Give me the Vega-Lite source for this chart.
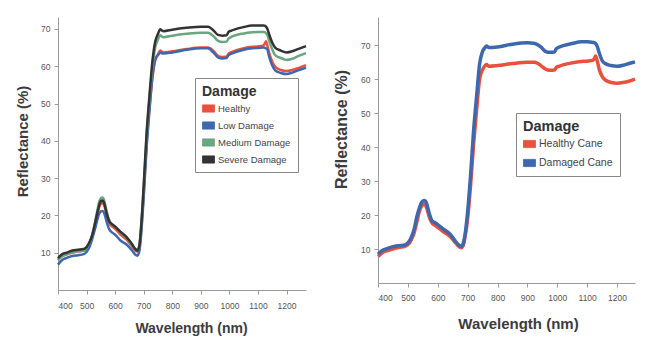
{
 "$schema": "https://vega.github.io/schema/vega-lite/v6.json",
 "background": "white",
 "padding": {"left": 15, "top": 17, "right": 5, "bottom": 5},
 "config": {
  "view": {"stroke": null},
  "font": "Liberation Sans",
  "concat": {"spacing": 22},
  "axis": {"domainColor": "#9a9a9a", "tickColor": "#9a9a9a", "tickSize": 4, "grid": false, "labelColor": "#555555", "labelFontSize": 8.5, "titleColor": "#3c3c3c", "titleFontWeight": "bold"},
  "legend": {"titleFontSize": 14, "titleColor": "#333333", "titleFontWeight": "bold", "labelFontSize": 10, "labelColor": "#444444", "symbolType": "M-1,-0.6H1V0.6H-1Z", "symbolSize": 144, "symbolStrokeWidth": 0.8, "strokeColor": "#888888", "fillColor": "white", "padding": 7, "rowPadding": 6, "titlePadding": 3, "labelOffset": 3}
 },
 "datasets": {
  "left": [
   {"wl":400,"r":8.0,"s":"Healthy"},{"wl":410,"r":8.8,"s":"Healthy"},{"wl":420,"r":9.3,"s":"Healthy"},{"wl":430,"r":9.5,"s":"Healthy"},{"wl":450,"r":10.0,"s":"Healthy"},{"wl":470,"r":10.3,"s":"Healthy"},{"wl":490,"r":10.5,"s":"Healthy"},{"wl":500,"r":11.0,"s":"Healthy"},{"wl":510,"r":12.2,"s":"Healthy"},{"wl":520,"r":14.3,"s":"Healthy"},{"wl":530,"r":17.5,"s":"Healthy"},{"wl":540,"r":21.0,"s":"Healthy"},{"wl":545,"r":22.4,"s":"Healthy"},{"wl":550,"r":23.1,"s":"Healthy"},{"wl":555,"r":23.3,"s":"Healthy"},{"wl":560,"r":23.0,"s":"Healthy"},{"wl":565,"r":21.8,"s":"Healthy"},{"wl":570,"r":20.0,"s":"Healthy"},{"wl":580,"r":17.8,"s":"Healthy"},{"wl":590,"r":17.0,"s":"Healthy"},{"wl":600,"r":16.4,"s":"Healthy"},{"wl":620,"r":14.8,"s":"Healthy"},{"wl":640,"r":13.5,"s":"Healthy"},{"wl":660,"r":11.6,"s":"Healthy"},{"wl":670,"r":10.6,"s":"Healthy"},{"wl":678,"r":10.3,"s":"Healthy"},{"wl":685,"r":11.5,"s":"Healthy"},{"wl":690,"r":15.0,"s":"Healthy"},{"wl":700,"r":26.0,"s":"Healthy"},{"wl":710,"r":39.0,"s":"Healthy"},{"wl":720,"r":48.5,"s":"Healthy"},{"wl":730,"r":56.5,"s":"Healthy"},{"wl":740,"r":61.5,"s":"Healthy"},{"wl":750,"r":63.2,"s":"Healthy"},{"wl":758,"r":64.2,"s":"Healthy"},{"wl":763,"r":63.9,"s":"Healthy"},{"wl":770,"r":63.7,"s":"Healthy"},{"wl":800,"r":64.0,"s":"Healthy"},{"wl":850,"r":64.6,"s":"Healthy"},{"wl":900,"r":65.0,"s":"Healthy"},{"wl":925,"r":65.0,"s":"Healthy"},{"wl":945,"r":64.0,"s":"Healthy"},{"wl":960,"r":62.8,"s":"Healthy"},{"wl":975,"r":62.5,"s":"Healthy"},{"wl":990,"r":62.6,"s":"Healthy"},{"wl":997,"r":63.4,"s":"Healthy"},{"wl":1005,"r":63.7,"s":"Healthy"},{"wl":1050,"r":64.8,"s":"Healthy"},{"wl":1080,"r":65.2,"s":"Healthy"},{"wl":1100,"r":65.3,"s":"Healthy"},{"wl":1120,"r":65.6,"s":"Healthy"},{"wl":1125,"r":66.3,"s":"Healthy"},{"wl":1128,"r":66.7,"s":"Healthy"},{"wl":1133,"r":65.5,"s":"Healthy"},{"wl":1140,"r":63.3,"s":"Healthy"},{"wl":1150,"r":61.2,"s":"Healthy"},{"wl":1160,"r":59.8,"s":"Healthy"},{"wl":1180,"r":59.0,"s":"Healthy"},{"wl":1200,"r":58.7,"s":"Healthy"},{"wl":1220,"r":59.0,"s":"Healthy"},{"wl":1240,"r":59.5,"s":"Healthy"},{"wl":1268,"r":60.3,"s":"Healthy"},
   {"wl":400,"r":6.8,"s":"Low Damage"},{"wl":410,"r":7.7,"s":"Low Damage"},{"wl":420,"r":8.3,"s":"Low Damage"},{"wl":430,"r":8.6,"s":"Low Damage"},{"wl":450,"r":9.1,"s":"Low Damage"},{"wl":470,"r":9.3,"s":"Low Damage"},{"wl":490,"r":9.6,"s":"Low Damage"},{"wl":500,"r":10.2,"s":"Low Damage"},{"wl":510,"r":11.5,"s":"Low Damage"},{"wl":520,"r":13.8,"s":"Low Damage"},{"wl":530,"r":16.5,"s":"Low Damage"},{"wl":540,"r":19.5,"s":"Low Damage"},{"wl":545,"r":20.6,"s":"Low Damage"},{"wl":550,"r":21.1,"s":"Low Damage"},{"wl":555,"r":21.2,"s":"Low Damage"},{"wl":560,"r":20.9,"s":"Low Damage"},{"wl":565,"r":19.8,"s":"Low Damage"},{"wl":570,"r":18.3,"s":"Low Damage"},{"wl":580,"r":16.2,"s":"Low Damage"},{"wl":590,"r":15.4,"s":"Low Damage"},{"wl":600,"r":14.8,"s":"Low Damage"},{"wl":620,"r":13.2,"s":"Low Damage"},{"wl":640,"r":12.2,"s":"Low Damage"},{"wl":660,"r":10.5,"s":"Low Damage"},{"wl":670,"r":9.5,"s":"Low Damage"},{"wl":678,"r":9.2,"s":"Low Damage"},{"wl":685,"r":10.5,"s":"Low Damage"},{"wl":690,"r":14.0,"s":"Low Damage"},{"wl":700,"r":25.0,"s":"Low Damage"},{"wl":710,"r":38.0,"s":"Low Damage"},{"wl":720,"r":48.0,"s":"Low Damage"},{"wl":730,"r":57.0,"s":"Low Damage"},{"wl":740,"r":61.8,"s":"Low Damage"},{"wl":750,"r":63.0,"s":"Low Damage"},{"wl":758,"r":63.6,"s":"Low Damage"},{"wl":763,"r":63.5,"s":"Low Damage"},{"wl":770,"r":63.4,"s":"Low Damage"},{"wl":800,"r":63.7,"s":"Low Damage"},{"wl":850,"r":64.4,"s":"Low Damage"},{"wl":900,"r":64.8,"s":"Low Damage"},{"wl":925,"r":64.8,"s":"Low Damage"},{"wl":945,"r":63.6,"s":"Low Damage"},{"wl":960,"r":62.4,"s":"Low Damage"},{"wl":975,"r":62.1,"s":"Low Damage"},{"wl":990,"r":62.2,"s":"Low Damage"},{"wl":997,"r":63.0,"s":"Low Damage"},{"wl":1005,"r":63.3,"s":"Low Damage"},{"wl":1050,"r":64.4,"s":"Low Damage"},{"wl":1080,"r":64.8,"s":"Low Damage"},{"wl":1100,"r":64.9,"s":"Low Damage"},{"wl":1120,"r":65.0,"s":"Low Damage"},{"wl":1125,"r":64.9,"s":"Low Damage"},{"wl":1128,"r":64.8,"s":"Low Damage"},{"wl":1133,"r":64.4,"s":"Low Damage"},{"wl":1140,"r":62.3,"s":"Low Damage"},{"wl":1150,"r":60.2,"s":"Low Damage"},{"wl":1160,"r":58.9,"s":"Low Damage"},{"wl":1180,"r":58.2,"s":"Low Damage"},{"wl":1200,"r":57.9,"s":"Low Damage"},{"wl":1220,"r":58.3,"s":"Low Damage"},{"wl":1240,"r":58.9,"s":"Low Damage"},{"wl":1268,"r":59.6,"s":"Low Damage"},
   {"wl":400,"r":8.0,"s":"Medium Damage"},{"wl":410,"r":8.8,"s":"Medium Damage"},{"wl":420,"r":9.3,"s":"Medium Damage"},{"wl":430,"r":9.6,"s":"Medium Damage"},{"wl":450,"r":10.2,"s":"Medium Damage"},{"wl":470,"r":10.4,"s":"Medium Damage"},{"wl":490,"r":10.6,"s":"Medium Damage"},{"wl":500,"r":11.2,"s":"Medium Damage"},{"wl":510,"r":12.6,"s":"Medium Damage"},{"wl":520,"r":14.8,"s":"Medium Damage"},{"wl":530,"r":18.3,"s":"Medium Damage"},{"wl":540,"r":22.2,"s":"Medium Damage"},{"wl":545,"r":23.8,"s":"Medium Damage"},{"wl":550,"r":24.6,"s":"Medium Damage"},{"wl":555,"r":24.8,"s":"Medium Damage"},{"wl":560,"r":24.4,"s":"Medium Damage"},{"wl":565,"r":23.0,"s":"Medium Damage"},{"wl":570,"r":21.2,"s":"Medium Damage"},{"wl":580,"r":18.6,"s":"Medium Damage"},{"wl":590,"r":17.6,"s":"Medium Damage"},{"wl":600,"r":17.0,"s":"Medium Damage"},{"wl":620,"r":15.4,"s":"Medium Damage"},{"wl":640,"r":14.0,"s":"Medium Damage"},{"wl":660,"r":12.0,"s":"Medium Damage"},{"wl":670,"r":11.0,"s":"Medium Damage"},{"wl":678,"r":10.7,"s":"Medium Damage"},{"wl":685,"r":12.0,"s":"Medium Damage"},{"wl":690,"r":16.0,"s":"Medium Damage"},{"wl":700,"r":27.5,"s":"Medium Damage"},{"wl":710,"r":41.0,"s":"Medium Damage"},{"wl":720,"r":51.0,"s":"Medium Damage"},{"wl":730,"r":59.5,"s":"Medium Damage"},{"wl":740,"r":65.0,"s":"Medium Damage"},{"wl":750,"r":67.2,"s":"Medium Damage"},{"wl":758,"r":68.3,"s":"Medium Damage"},{"wl":763,"r":68.0,"s":"Medium Damage"},{"wl":770,"r":67.8,"s":"Medium Damage"},{"wl":800,"r":68.2,"s":"Medium Damage"},{"wl":850,"r":68.7,"s":"Medium Damage"},{"wl":900,"r":69.0,"s":"Medium Damage"},{"wl":925,"r":69.0,"s":"Medium Damage"},{"wl":945,"r":68.0,"s":"Medium Damage"},{"wl":960,"r":66.8,"s":"Medium Damage"},{"wl":975,"r":66.5,"s":"Medium Damage"},{"wl":990,"r":66.6,"s":"Medium Damage"},{"wl":997,"r":67.4,"s":"Medium Damage"},{"wl":1005,"r":67.8,"s":"Medium Damage"},{"wl":1050,"r":68.8,"s":"Medium Damage"},{"wl":1080,"r":69.1,"s":"Medium Damage"},{"wl":1100,"r":69.2,"s":"Medium Damage"},{"wl":1120,"r":69.2,"s":"Medium Damage"},{"wl":1125,"r":69.1,"s":"Medium Damage"},{"wl":1128,"r":68.9,"s":"Medium Damage"},{"wl":1133,"r":68.3,"s":"Medium Damage"},{"wl":1140,"r":66.6,"s":"Medium Damage"},{"wl":1150,"r":64.5,"s":"Medium Damage"},{"wl":1160,"r":63.0,"s":"Medium Damage"},{"wl":1180,"r":62.2,"s":"Medium Damage"},{"wl":1200,"r":61.7,"s":"Medium Damage"},{"wl":1220,"r":62.0,"s":"Medium Damage"},{"wl":1240,"r":62.7,"s":"Medium Damage"},{"wl":1268,"r":63.5,"s":"Medium Damage"},
   {"wl":400,"r":8.5,"s":"Severe Damage"},{"wl":410,"r":9.3,"s":"Severe Damage"},{"wl":420,"r":9.8,"s":"Severe Damage"},{"wl":430,"r":10.0,"s":"Severe Damage"},{"wl":450,"r":10.6,"s":"Severe Damage"},{"wl":470,"r":10.8,"s":"Severe Damage"},{"wl":490,"r":11.0,"s":"Severe Damage"},{"wl":500,"r":11.5,"s":"Severe Damage"},{"wl":510,"r":12.8,"s":"Severe Damage"},{"wl":520,"r":14.8,"s":"Severe Damage"},{"wl":530,"r":18.0,"s":"Severe Damage"},{"wl":540,"r":21.5,"s":"Severe Damage"},{"wl":545,"r":23.0,"s":"Severe Damage"},{"wl":550,"r":23.8,"s":"Severe Damage"},{"wl":555,"r":24.0,"s":"Severe Damage"},{"wl":560,"r":23.6,"s":"Severe Damage"},{"wl":565,"r":22.3,"s":"Severe Damage"},{"wl":570,"r":20.6,"s":"Severe Damage"},{"wl":580,"r":18.3,"s":"Severe Damage"},{"wl":590,"r":17.6,"s":"Severe Damage"},{"wl":600,"r":17.0,"s":"Severe Damage"},{"wl":620,"r":15.5,"s":"Severe Damage"},{"wl":640,"r":14.2,"s":"Severe Damage"},{"wl":660,"r":12.2,"s":"Severe Damage"},{"wl":670,"r":11.0,"s":"Severe Damage"},{"wl":678,"r":10.6,"s":"Severe Damage"},{"wl":685,"r":12.0,"s":"Severe Damage"},{"wl":690,"r":16.0,"s":"Severe Damage"},{"wl":700,"r":28.0,"s":"Severe Damage"},{"wl":710,"r":42.0,"s":"Severe Damage"},{"wl":720,"r":52.0,"s":"Severe Damage"},{"wl":730,"r":61.0,"s":"Severe Damage"},{"wl":740,"r":66.5,"s":"Severe Damage"},{"wl":750,"r":68.7,"s":"Severe Damage"},{"wl":758,"r":69.9,"s":"Severe Damage"},{"wl":763,"r":69.6,"s":"Severe Damage"},{"wl":770,"r":69.4,"s":"Severe Damage"},{"wl":800,"r":69.8,"s":"Severe Damage"},{"wl":850,"r":70.3,"s":"Severe Damage"},{"wl":900,"r":70.6,"s":"Severe Damage"},{"wl":925,"r":70.6,"s":"Severe Damage"},{"wl":945,"r":69.5,"s":"Severe Damage"},{"wl":960,"r":68.4,"s":"Severe Damage"},{"wl":975,"r":68.2,"s":"Severe Damage"},{"wl":990,"r":68.3,"s":"Severe Damage"},{"wl":997,"r":69.2,"s":"Severe Damage"},{"wl":1005,"r":69.5,"s":"Severe Damage"},{"wl":1050,"r":70.5,"s":"Severe Damage"},{"wl":1080,"r":70.9,"s":"Severe Damage"},{"wl":1100,"r":70.9,"s":"Severe Damage"},{"wl":1120,"r":70.9,"s":"Severe Damage"},{"wl":1125,"r":70.8,"s":"Severe Damage"},{"wl":1128,"r":70.6,"s":"Severe Damage"},{"wl":1133,"r":70.0,"s":"Severe Damage"},{"wl":1140,"r":68.3,"s":"Severe Damage"},{"wl":1150,"r":66.3,"s":"Severe Damage"},{"wl":1160,"r":65.0,"s":"Severe Damage"},{"wl":1180,"r":64.2,"s":"Severe Damage"},{"wl":1200,"r":63.7,"s":"Severe Damage"},{"wl":1220,"r":64.0,"s":"Severe Damage"},{"wl":1240,"r":64.6,"s":"Severe Damage"},{"wl":1268,"r":65.4,"s":"Severe Damage"}
  ],
  "right": [
   {"wl":400,"r":7.8,"s":"Healthy Cane"},{"wl":410,"r":8.6,"s":"Healthy Cane"},{"wl":420,"r":9.2,"s":"Healthy Cane"},{"wl":430,"r":9.5,"s":"Healthy Cane"},{"wl":450,"r":10.0,"s":"Healthy Cane"},{"wl":470,"r":10.5,"s":"Healthy Cane"},{"wl":490,"r":10.8,"s":"Healthy Cane"},{"wl":500,"r":11.3,"s":"Healthy Cane"},{"wl":510,"r":12.5,"s":"Healthy Cane"},{"wl":520,"r":14.5,"s":"Healthy Cane"},{"wl":530,"r":18.0,"s":"Healthy Cane"},{"wl":540,"r":21.5,"s":"Healthy Cane"},{"wl":545,"r":22.5,"s":"Healthy Cane"},{"wl":550,"r":23.0,"s":"Healthy Cane"},{"wl":555,"r":23.2,"s":"Healthy Cane"},{"wl":560,"r":22.8,"s":"Healthy Cane"},{"wl":565,"r":21.5,"s":"Healthy Cane"},{"wl":570,"r":19.9,"s":"Healthy Cane"},{"wl":580,"r":17.8,"s":"Healthy Cane"},{"wl":590,"r":17.0,"s":"Healthy Cane"},{"wl":600,"r":16.4,"s":"Healthy Cane"},{"wl":620,"r":15.0,"s":"Healthy Cane"},{"wl":640,"r":13.8,"s":"Healthy Cane"},{"wl":660,"r":11.8,"s":"Healthy Cane"},{"wl":670,"r":10.8,"s":"Healthy Cane"},{"wl":678,"r":10.4,"s":"Healthy Cane"},{"wl":685,"r":11.0,"s":"Healthy Cane"},{"wl":690,"r":13.0,"s":"Healthy Cane"},{"wl":700,"r":19.0,"s":"Healthy Cane"},{"wl":710,"r":29.0,"s":"Healthy Cane"},{"wl":720,"r":41.0,"s":"Healthy Cane"},{"wl":730,"r":51.0,"s":"Healthy Cane"},{"wl":740,"r":60.0,"s":"Healthy Cane"},{"wl":750,"r":62.8,"s":"Healthy Cane"},{"wl":758,"r":64.0,"s":"Healthy Cane"},{"wl":763,"r":64.3,"s":"Healthy Cane"},{"wl":770,"r":63.8,"s":"Healthy Cane"},{"wl":800,"r":64.0,"s":"Healthy Cane"},{"wl":850,"r":64.6,"s":"Healthy Cane"},{"wl":900,"r":65.0,"s":"Healthy Cane"},{"wl":925,"r":65.0,"s":"Healthy Cane"},{"wl":945,"r":64.0,"s":"Healthy Cane"},{"wl":960,"r":63.0,"s":"Healthy Cane"},{"wl":975,"r":62.6,"s":"Healthy Cane"},{"wl":990,"r":62.7,"s":"Healthy Cane"},{"wl":997,"r":63.5,"s":"Healthy Cane"},{"wl":1005,"r":63.8,"s":"Healthy Cane"},{"wl":1050,"r":64.8,"s":"Healthy Cane"},{"wl":1080,"r":65.2,"s":"Healthy Cane"},{"wl":1100,"r":65.3,"s":"Healthy Cane"},{"wl":1120,"r":65.6,"s":"Healthy Cane"},{"wl":1125,"r":66.3,"s":"Healthy Cane"},{"wl":1128,"r":66.8,"s":"Healthy Cane"},{"wl":1133,"r":65.6,"s":"Healthy Cane"},{"wl":1140,"r":63.0,"s":"Healthy Cane"},{"wl":1150,"r":60.8,"s":"Healthy Cane"},{"wl":1160,"r":59.8,"s":"Healthy Cane"},{"wl":1180,"r":59.0,"s":"Healthy Cane"},{"wl":1200,"r":58.8,"s":"Healthy Cane"},{"wl":1220,"r":59.0,"s":"Healthy Cane"},{"wl":1240,"r":59.4,"s":"Healthy Cane"},{"wl":1260,"r":60.0,"s":"Healthy Cane"},
   {"wl":400,"r":8.5,"s":"Damaged Cane"},{"wl":410,"r":9.3,"s":"Damaged Cane"},{"wl":420,"r":9.8,"s":"Damaged Cane"},{"wl":430,"r":10.1,"s":"Damaged Cane"},{"wl":450,"r":10.7,"s":"Damaged Cane"},{"wl":470,"r":11.0,"s":"Damaged Cane"},{"wl":490,"r":11.2,"s":"Damaged Cane"},{"wl":500,"r":11.8,"s":"Damaged Cane"},{"wl":510,"r":13.2,"s":"Damaged Cane"},{"wl":520,"r":15.5,"s":"Damaged Cane"},{"wl":530,"r":19.5,"s":"Damaged Cane"},{"wl":540,"r":22.5,"s":"Damaged Cane"},{"wl":545,"r":23.6,"s":"Damaged Cane"},{"wl":550,"r":24.1,"s":"Damaged Cane"},{"wl":555,"r":24.3,"s":"Damaged Cane"},{"wl":560,"r":24.0,"s":"Damaged Cane"},{"wl":565,"r":22.7,"s":"Damaged Cane"},{"wl":570,"r":21.0,"s":"Damaged Cane"},{"wl":580,"r":18.4,"s":"Damaged Cane"},{"wl":590,"r":17.8,"s":"Damaged Cane"},{"wl":600,"r":17.2,"s":"Damaged Cane"},{"wl":620,"r":15.8,"s":"Damaged Cane"},{"wl":640,"r":14.5,"s":"Damaged Cane"},{"wl":660,"r":12.2,"s":"Damaged Cane"},{"wl":670,"r":11.2,"s":"Damaged Cane"},{"wl":678,"r":10.8,"s":"Damaged Cane"},{"wl":685,"r":11.6,"s":"Damaged Cane"},{"wl":690,"r":13.5,"s":"Damaged Cane"},{"wl":700,"r":21.0,"s":"Damaged Cane"},{"wl":710,"r":32.0,"s":"Damaged Cane"},{"wl":720,"r":45.0,"s":"Damaged Cane"},{"wl":730,"r":55.0,"s":"Damaged Cane"},{"wl":740,"r":64.5,"s":"Damaged Cane"},{"wl":750,"r":68.2,"s":"Damaged Cane"},{"wl":758,"r":69.3,"s":"Damaged Cane"},{"wl":763,"r":69.8,"s":"Damaged Cane"},{"wl":770,"r":69.3,"s":"Damaged Cane"},{"wl":800,"r":69.5,"s":"Damaged Cane"},{"wl":850,"r":70.3,"s":"Damaged Cane"},{"wl":900,"r":70.7,"s":"Damaged Cane"},{"wl":925,"r":70.5,"s":"Damaged Cane"},{"wl":945,"r":69.5,"s":"Damaged Cane"},{"wl":960,"r":68.2,"s":"Damaged Cane"},{"wl":975,"r":67.9,"s":"Damaged Cane"},{"wl":990,"r":68.0,"s":"Damaged Cane"},{"wl":997,"r":69.0,"s":"Damaged Cane"},{"wl":1005,"r":69.4,"s":"Damaged Cane"},{"wl":1050,"r":70.5,"s":"Damaged Cane"},{"wl":1080,"r":71.0,"s":"Damaged Cane"},{"wl":1100,"r":71.0,"s":"Damaged Cane"},{"wl":1120,"r":70.8,"s":"Damaged Cane"},{"wl":1125,"r":70.7,"s":"Damaged Cane"},{"wl":1128,"r":70.5,"s":"Damaged Cane"},{"wl":1133,"r":69.8,"s":"Damaged Cane"},{"wl":1140,"r":67.8,"s":"Damaged Cane"},{"wl":1150,"r":65.5,"s":"Damaged Cane"},{"wl":1160,"r":64.6,"s":"Damaged Cane"},{"wl":1180,"r":64.0,"s":"Damaged Cane"},{"wl":1200,"r":63.8,"s":"Damaged Cane"},{"wl":1220,"r":64.1,"s":"Damaged Cane"},{"wl":1240,"r":64.6,"s":"Damaged Cane"},{"wl":1260,"r":65.1,"s":"Damaged Cane"}
  ]
 },
 "hconcat": [
  {
   "width": 248, "height": 273,
   "data": {"name": "left"},
   "mark": {"type": "line", "strokeWidth": 2.5, "interpolate": "monotone"},
   "encoding": {
    "x": {"field": "wl", "type": "quantitative", "scale": {"domain": [400, 1268], "nice": false, "zero": false},
     "axis": {"values": [400,500,600,700,800,900,1000,1100,1200], "format": "d", "title": "Wavelength (nm)", "titleFontSize": 14, "titleX": 133, "titleY": 38, "titleBaseline": "middle", "labelPadding": 7}},
    "y": {"field": "r", "type": "quantitative", "scale": {"domain": [0, 73.2], "nice": false},
     "axis": {"values": [10,20,30,40,50,60,70], "title": "Reflectance (%)", "titleFontSize": 15, "titleX": -36, "titleY": 124, "titleBaseline": "middle", "labelPadding": 4}},
    "color": {"field": "s", "type": "nominal",
     "scale": {"domain": ["Healthy", "Low Damage", "Medium Damage", "Severe Damage"], "range": ["#e9503d", "#3d68ad", "#6aa67f", "#333333"]},
     "legend": {"title": "Damage", "orient": "none", "legendX": 137, "legendY": 61, "labelFontSize": 9.5, "rowPadding": 5,
      "encode": {"symbols": {"update": {"fill": {"scale": "concat_0_color", "field": "value"}, "stroke": {"value": "#333333"}, "strokeWidth": {"value": 0.8}, "opacity": {"value": 1}}}}}}
   }
  },
  {
   "width": 257, "height": 266,
   "data": {"name": "right"},
   "encoding": {
    "x": {"field": "wl", "type": "quantitative", "scale": {"domain": [400, 1260], "nice": false, "zero": false},
     "axis": {"values": [400,500,600,700,800,900,1000,1100,1200], "format": "d", "title": "Wavelength (nm)", "titleFontSize": 15, "titleX": 140, "titleY": 40, "titleBaseline": "middle", "labelPadding": 6}},
    "y": {"field": "r", "type": "quantitative", "scale": {"domain": [0, 78.3], "nice": false},
     "axis": {"values": [10,20,30,40,50,60,70], "title": "Reflectance (%)", "titleFontSize": 16, "titleX": -37, "titleY": 112, "titleBaseline": "middle", "labelPadding": 4}},
    "color": {"field": "s", "type": "nominal",
     "scale": {"domain": ["Healthy Cane", "Damaged Cane"], "range": ["#e9503d", "#3d68ad"]},
     "legend": {"title": "Damage", "orient": "none", "legendX": 138, "legendY": 96, "titleFontSize": 14.5, "labelFontSize": 10.5, "rowPadding": 7,
      "encode": {"symbols": {"update": {"fill": {"scale": "concat_1_color", "field": "value"}, "stroke": {"value": "#333333"}, "strokeWidth": {"value": 0.8}, "opacity": {"value": 1}}}}}}
   },
   "layer": [
    {"transform": [{"filter": "datum.s === 'Healthy Cane'"}], "mark": {"type": "line", "strokeWidth": 3.5, "interpolate": "monotone"}},
    {"transform": [{"filter": "datum.s === 'Damaged Cane'"}], "mark": {"type": "line", "strokeWidth": 3.5, "interpolate": "monotone"}}
   ]
  }
 ],
 "resolve": {"scale": {"color": "independent"}}
}
